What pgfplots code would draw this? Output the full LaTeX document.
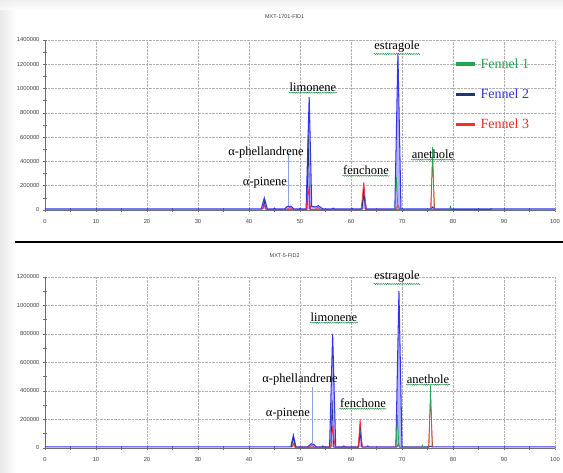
\documentclass[border=0pt]{standalone}
\usepackage{pgfplots}
\pgfplotsset{compat=1.18}
\usepackage{fontspec}
\setmainfont{Liberation Serif}
\newfontfamily\tickfont{Liberation Sans}
\usetikzlibrary{decorations.pathmorphing}
\definecolor{fgreen}{HTML}{1FA84F}
\definecolor{fnavy}{HTML}{1F3A64}
\definecolor{fblue}{HTML}{3434F0}
\definecolor{fbluefill}{HTML}{B4B4FF}
\definecolor{fred}{HTML}{FF2A2A}
\definecolor{fltblue}{HTML}{86A8D8}
\definecolor{gridgray}{HTML}{B0B0B0}
\definecolor{axgray}{HTML}{707070}
\pgfplotsset{
  chrom/.style={
    scale only axis, width=510pt,
    xmin=0, xmax=100, ymin=0,
    axis x line=bottom, axis y line=left,
    axis line style={-, axgray, line width=0.8pt},
    xtick={0,10,...,100}, minor xtick={5,15,...,95},
    tick align=center, major tick length=4pt, minor tick length=4pt,
    tick style={axgray, line width=0.6pt},
    grid=major, major grid style={gridgray, densely dotted, line width=0.5pt},
    ticklabel style={font=\tickfont\fontsize{5.8}{6}\selectfont, text=black!75},
    scaled y ticks=false,
    yticklabel style={/pgf/number format/fixed, /pgf/number format/1000 sep={}},
    /pgf/number format/assume math mode=true,
    xticklabel style={yshift=-3.5pt},
    clip=false,
    extra x ticks={100}, extra x tick style={grid=major, tick style={draw=none}, ticklabel style={opacity=0}},
  },
  bluetr/.style={fblue, line width=1.05pt, fill=fbluefill, forget plot},
  navytr/.style={fnavy, line width=0.6pt, forget plot},
  redtr/.style={fred, line width=0.7pt, forget plot},
  greentr/.style={fgreen, line width=0.7pt, forget plot},
  lbtr/.style={fltblue, line width=0.7pt, forget plot},
}
\tikzset{
  lab/.style={font=\fontsize{12.5}{13}\selectfont, inner sep=0.5pt},
  wavy/.style={draw=fgreen!80!black, line width=0.45pt, decorate, decoration={snake, amplitude=0.55pt, segment length=2.2pt}},
}
\newcommand{\wlab}[2]{\node[lab] (n) at #1 {#2}; \draw[wavy] ([yshift=-0.6pt]n.south west) -- ([yshift=-0.6pt]n.south east);}
\begin{document}
\begin{tikzpicture}
\useasboundingbox (0pt,0pt) rectangle (563pt,473pt);
\fill[white] (0pt,0pt) rectangle (563pt,473pt);
\shade[left color=black!9, right color=white] (0pt,0pt) rectangle (16pt,473pt);
\shade[top color=black!7, bottom color=white, opacity=0.8] (0pt,473pt) rectangle (563pt,463pt);

% ---------- Panel 1 ----------
\begin{axis}[chrom, at={(45pt,263pt)}, anchor=south west, height=170pt,
  ymax=1400000, ytick={0,200000,...,1400000}, minor ytick={100000,300000,...,1300000},
  legend style={at={(0.803,0.905)}, anchor=north west, draw=none, fill=none,
    font=\fontsize{14}{15}\selectfont, row sep=15pt, column sep=1.5pt, inner sep=0pt},
  legend cell align=left,
  legend image code/.code={\draw[line width=3.3pt] (0pt,0pt) -- (19pt,0pt);},
  title={\tickfont\fontsize{5.5}{6}\selectfont MXT-1701-FID1},
  title style={at={(0.47,1)}, yshift=12pt, text=black!75},
]
\addplot[bluetr] coordinates {(0,8000) (42.4,8000) (43,100000) (43.6,8000) (44.8,8000) (45,15000) (45.2,8000)
 (47,8000) (47.5,30000) (48.3,30000) (48.8,8000) (49.8,8000) (50,14000) (50.2,8000)
 (51.2,8000) (51.8,930000) (52.3,30000) (53,25000) (53.6,35000) (54.5,8000)
 (56.3,8000) (56.5,15000) (56.7,8000) (60,8000) (60.2,14000) (60.4,8000)
 (62,8000) (62.5,120000) (63,8000) (68.6,8000) (69.2,1290000) (69.8,8000)
 (75.6,8000) (76,25000) (76.4,8000) (100,8000)};
\addplot[navytr] coordinates {(42.7,5000) (43,70000) (43.3,5000) (51.4,5000) (51.6,620000) (51.9,5000)
 (62.2,5000) (62.5,200000) (62.8,5000) (87.3,5000) (87.5,12000) (87.7,5000)};
\addplot[redtr] coordinates {(42.6,5000) (43,40000) (43.4,5000) (47.4,5000) (48,20000) (48.6,5000)
 (51.2,5000) (51.6,170000) (52.1,5000) (53,5000) (53.5,20000) (54,5000)
 (62,5000) (62.5,230000) (63,5000) (68.8,5000) (69.2,40000) (69.6,5000)
 (75.6,5000) (76,410000) (76.4,5000)};
\addplot[greentr] coordinates {(68.6,5000) (68.9,270000) (69.2,5000) (75.7,5000) (76,520000) (76.3,5000)
 (79.3,5000) (79.5,30000) (79.7,5000)};
\addplot[lbtr] coordinates {(47.8,30000) (47.8,470000)};
\addlegendimage{fgreen, line width=3.3pt}\addlegendentry{\textcolor{fgreen}{Fennel 1}}
\addlegendimage{fnavy, line width=3.3pt}\addlegendentry{\textcolor{fblue}{Fennel 2}}
\addlegendimage{fred, line width=3.3pt}\addlegendentry{\textcolor{fred}{Fennel 3}}
\end{axis}

% ---------- Panel 2 ----------
\begin{axis}[chrom, at={(45pt,25pt)}, anchor=south west, height=171pt,
  ymax=1200000, ytick={0,200000,...,1200000}, minor ytick={100000,300000,...,1100000},
  title={\tickfont\fontsize{5.5}{6}\selectfont MXT-5-FID2},
  title style={at={(0.47,1)}, yshift=10pt, text=black!75},
]
\addplot[bluetr] coordinates {(0,8000) (48.2,8000) (48.7,90000) (49.2,8000) (51.5,8000) (52.2,30000) (52.7,25000) (53.2,8000)
 (54.3,8000) (54.5,14000) (54.7,8000) (55.8,8000) (56.4,800000) (57,8000)
 (58.3,8000) (58.6,14000) (58.9,8000) (61.4,8000) (61.8,100000) (62.2,8000)
 (63.1,8000) (63.3,14000) (63.5,8000) (68.8,8000) (69.4,1100000) (70,8000)
 (75.3,8000) (75.6,12000) (75.9,8000) (100,8000)};
\addplot[navytr] coordinates {(48.3,5000) (48.7,70000) (49.1,5000) (56.1,5000) (56.3,340000) (56.6,5000)
 (61.5,5000) (61.8,180000) (62.1,5000)};
\addplot[redtr] coordinates {(48.4,5000) (48.7,30000) (49,5000) (51.8,5000) (52.3,20000) (52.8,5000)
 (56,5000) (56.4,140000) (56.9,5000) (61.4,5000) (61.8,200000) (62.2,5000)
 (69,5000) (69.3,30000) (69.6,5000) (75.2,5000) (75.6,350000) (76,5000)};
\addplot[greentr] coordinates {(68.8,5000) (69.1,230000) (69.4,5000) (73.8,5000) (74,20000) (74.2,5000)
 (75.3,5000) (75.6,440000) (75.9,5000)};
\addplot[lbtr] coordinates {(52.5,30000) (52.5,430000)};
\end{axis}

% separator
\draw[black, line width=2.6pt] (15pt,231pt) -- (563pt,231pt);

% labels panel 1 (pixel y -> 473-y)
\wlab{(397pt,426pt)}{estragole}
\wlab{(313pt,386pt)}{limonene}
\node[lab] at (266pt,320pt) {α-phellandrene};
\node[lab] at (265pt,290pt) {α-pinene};
\wlab{(366pt,303pt)}{fenchone}
\wlab{(433pt,319pt)}{anethole}
% labels panel 2
\wlab{(397pt,196pt)}{estragole}
\wlab{(334pt,156pt)}{limonene}
\node[lab] at (300pt,93pt) {α-phellandrene};
\node[lab] at (288pt,59pt) {α-pinene};
\wlab{(363pt,70pt)}{fenchone}
\wlab{(428pt,94pt)}{anethole}
\end{tikzpicture}
\end{document}
